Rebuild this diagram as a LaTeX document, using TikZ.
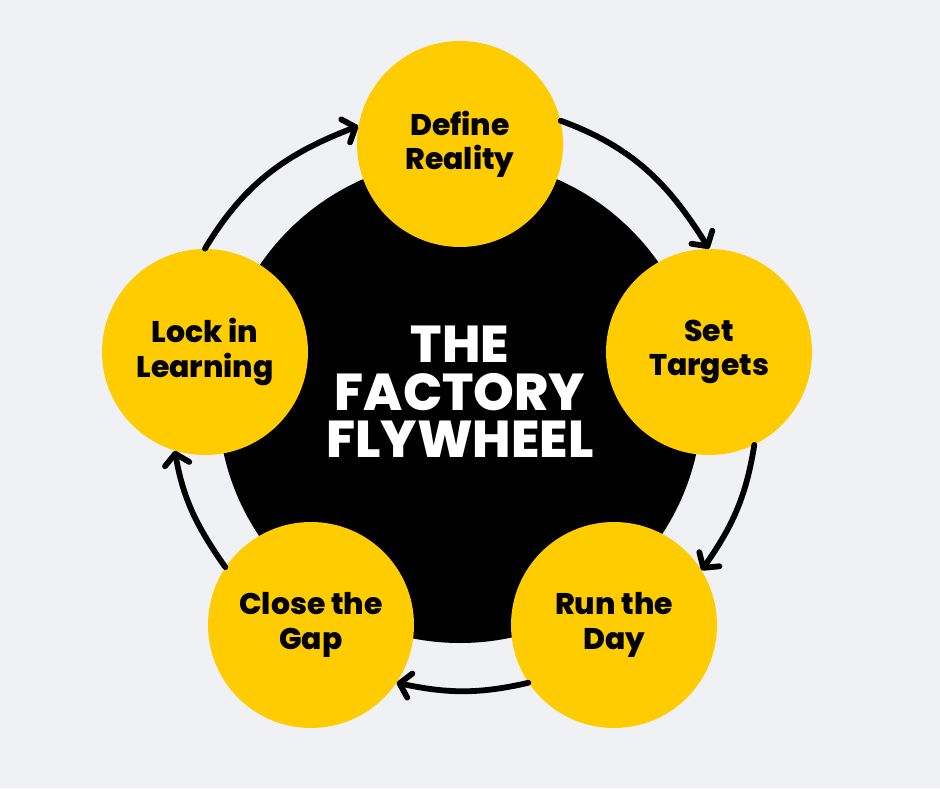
\documentclass[tikz,border=0pt]{standalone}
\usepackage{fontspec}
\setmainfont{Poppins}[BoldFont={Poppins ExtraBold}]
\usepackage{tikz}
\usetikzlibrary{arrows.meta}
\definecolor{bggray}{HTML}{F0F1F5}
\definecolor{flyyellow}{HTML}{FFCC00}
\tikzset{stage/.style={circle,fill=flyyellow,minimum size=4.12cm,inner sep=0pt,align=center,font=\fontsize{17}{19.5}\selectfont\bfseries},
loop arrow/.style={line width=3.3pt,line cap=round,-{Straight Barb[length=6pt,width=14pt,line width=3.3pt,round]}}}

\begin{document}
\begin{tikzpicture}
\fill[bggray] (0,0) rectangle (18.8,15.76);

\node (wheel) at (9.2,7.74) [circle,fill=black,minimum size=9.68cm] {};
\node (title) at (9.2,7.92) [text=white,align=center,font=\fontsize{29.5}{27}\selectfont\bfseries] {THE\\FACTORY\\FLYWHEEL};

\node (dr) at (9.2,12.88) [stage] {Define\\Reality};
\node (st) at (14.18,8.72) [stage] {Set\\Targets};
\node (rd) at (12.28,3.26) [stage] {Run the\\Day};
\node (cg) at (6.22,3.26) [stage] {Close the\\Gap};
\node (ll) at (4.1,8.72) [stage] {Lock in\\Learning};

% arrows round the wheel
\draw[loop arrow] (dr.13) to [out=-20,in=122] (st.90);
\draw[loop arrow] (st.-64) to [out=-99,in=55] (rd.32);
\draw[loop arrow] (rd.214) to [out=-167,in=-12] (cg.-34);
\draw[loop arrow] (cg.146) to [out=125,in=280] (ll.253);
\draw[loop arrow] (ll.90) to [out=59,in=201] (dr.170);
\end{tikzpicture}
\end{document}
